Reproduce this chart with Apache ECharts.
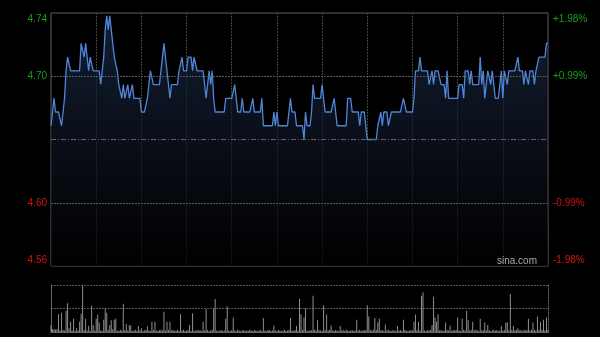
<!DOCTYPE html>
<html><head><meta charset="utf-8">
<script src="https://cdn.jsdelivr.net/npm/echarts@6/dist/echarts.min.js"></script>
<style>html,body{margin:0;padding:0;background:#000;}#c{width:600px;height:337px;}</style>
</head><body><div id="c"></div>
<script>
const prevClose = 4.65;
const pctTicks = [-1.98, -0.99, 0, 0.99, 1.98];
const priceTickLabels = ['4.56', '4.60', '', '4.70', '4.74'];
const pctTickLabels = ['-1.98%', '-0.99%', '', '+0.99%', '+1.98%'];

const prices = [
4.66,4.67,4.68,4.67,4.67,4.67,4.67,4.66,4.67,4.68,
4.70,4.71,4.71,4.70,4.70,4.70,4.70,4.70,4.70,4.70,
4.72,4.72,4.71,4.72,4.71,4.70,4.71,4.71,4.70,4.70,
4.70,4.70,4.70,4.69,4.69,4.71,4.73,4.74,4.73,4.74,
4.73,4.72,4.71,4.71,4.70,4.69,4.69,4.68,4.69,4.68,
4.68,4.69,4.68,4.68,4.69,4.68,4.68,4.68,4.68,4.68,
4.67,4.67,4.67,4.67,4.68,4.68,4.70,4.70,4.69,4.69,
4.69,4.69,4.69,4.69,4.71,4.72,4.71,4.70,4.69,4.68,
4.69,4.69,4.69,4.69,4.69,4.70,4.70,4.71,4.70,4.70,
4.70,4.71,4.71,4.71,4.70,4.71,4.71,4.70,4.70,4.70,
4.70,4.70,4.70,4.68,4.69,4.70,4.69,4.70,4.68,4.67,
4.67,4.67,4.67,4.67,4.67,4.67,4.68,4.68,4.68,4.68,
4.68,4.68,4.69,4.69,4.67,4.67,4.67,4.68,4.67,4.67,
4.67,4.67,4.67,4.67,4.68,4.67,4.67,4.67,4.67,4.67,
4.68,4.66,4.66,4.66,4.66,4.66,4.66,4.66,4.67,4.66,
4.67,4.66,4.66,4.66,4.66,4.66,4.66,4.66,4.66,4.68,
4.67,4.67,4.67,4.66,4.66,4.66,4.66,4.66,4.65,4.67,
4.66,4.66,4.66,4.67,4.69,4.68,4.68,4.68,4.68,4.68,
4.69,4.69,4.67,4.67,4.67,4.67,4.67,4.67,4.68,4.67,
4.66,4.66,4.66,4.66,4.66,4.66,4.66,4.68,4.68,4.68,
4.67,4.67,4.67,4.67,4.67,4.66,4.67,4.67,4.67,4.67,
4.65,4.65,4.65,4.65,4.65,4.65,4.65,4.66,4.66,4.67,
4.66,4.67,4.67,4.67,4.66,4.66,4.67,4.67,4.67,4.67,
4.67,4.67,4.67,4.67,4.68,4.68,4.67,4.67,4.67,4.67,
4.67,4.68,4.70,4.70,4.70,4.71,4.70,4.70,4.70,4.70,
4.70,4.69,4.69,4.70,4.69,4.70,4.70,4.70,4.70,4.69,
4.69,4.69,4.68,4.70,4.68,4.68,4.68,4.68,4.68,4.68,
4.68,4.69,4.69,4.69,4.68,4.70,4.70,4.70,4.69,4.70,
4.69,4.69,4.69,4.69,4.69,4.71,4.69,4.70,4.68,4.69,
4.70,4.70,4.69,4.70,4.70,4.68,4.68,4.68,4.68,4.70,
4.68,4.70,4.70,4.69,4.70,4.70,4.70,4.70,4.70,4.70,
4.71,4.70,4.70,4.70,4.69,4.70,4.70,4.69,4.70,4.70,
4.70,4.69,4.70,4.70,4.71,4.71,4.71,4.71,4.71,4.72,
4.72
];

const volumes = [
15,6,6,5,6,38,3,41,4,3,
45,61,8,22,3,28,2,8,3,22,
39,99,4,28,3,13,2,56,15,3,
28,37,20,3,2,26,50,41,4,15,
25,6,26,28,3,2,5,3,60,4,
17,3,15,14,2,3,5,2,13,3,
8,2,3,4,12,3,2,22,4,22,
3,2,4,5,3,43,3,22,4,22,
3,5,2,3,4,2,38,3,5,2,
3,4,15,2,40,3,2,5,3,4,
2,22,3,49,4,2,3,5,50,70,
3,2,3,4,2,3,28,55,3,2,
4,31,3,2,5,3,2,3,4,2,
3,2,5,3,2,4,3,2,3,5,
2,30,3,2,4,4,2,3,14,3,
2,4,3,2,3,5,2,3,4,30,
3,2,4,13,3,70,38,4,31,50,
3,2,4,3,77,5,3,25,4,3,
2,57,4,37,3,5,14,3,2,4,
3,2,13,3,4,2,5,3,2,3,
4,2,3,26,3,5,2,3,4,3,
57,33,4,3,5,30,4,20,28,3,
4,2,16,3,5,3,2,4,3,2,
13,3,4,2,26,5,3,2,3,4,
3,22,37,4,22,3,77,84,3,2,
4,3,5,15,75,31,22,38,3,4,
2,3,20,4,3,14,2,5,3,4,
31,3,2,28,4,3,45,25,3,4,
22,3,5,4,2,28,3,4,20,3,
15,4,2,3,5,3,4,2,3,13,
3,4,20,20,3,81,4,13,3,5,
8,3,4,2,5,3,4,28,3,5,
20,4,3,33,5,22,4,26,3,31,
5
];

// minute categories for a HK trading day (09:30-12:00, 13:00-16:00)
const minutes = [];
for (let m = 9 * 60 + 30; m <= 12 * 60; m++) minutes.push(m);
for (let m = 13 * 60 + 1; m <= 16 * 60; m++) minutes.push(m);
const categories = minutes.slice(0, prices.length).map(m => String(Math.floor(m / 60)).padStart(2, '0') + ':' + String(m % 60).padStart(2, '0'));

const pctData = prices.map(p => (p - prevClose) / prevClose * 100);

const GREEN = '#1c9e1c', RED = '#d41414';
const FONT = '"Liberation Sans", Arial, sans-serif';
function tickIndex(v) {
  let best = 0, bd = 1e9;
  pctTicks.forEach((t, i) => { const d = Math.abs(t - v); if (d < bd) { bd = d; best = i; } });
  return bd < 0.01 ? best : -1;
}
const richStyles = {
  gT: { color: GREEN, fontSize: 10, fontFamily: FONT, padding: [12, 0, 0, 0] },
  g: { color: GREEN, fontSize: 10, fontFamily: FONT },
  r: { color: RED, fontSize: 10, fontFamily: FONT },
  rB: { color: RED, fontSize: 10, fontFamily: FONT, padding: [0, 0, 12, 0] }
};
function fmt(labels) {
  return function (v) {
    const i = tickIndex(v);
    if (i < 0 || labels[i] === '') return '';
    const key = i === 4 ? 'gT' : i === 3 ? 'g' : i === 1 ? 'r' : 'rB';
    return '{' + key + '|' + labels[i] + '}';
  };
}

const chart = echarts.init(document.getElementById('c'), null, { renderer: 'canvas' });
chart.setOption({
  backgroundColor: '#000',
  animation: false,
  grid: [
    { left: 51, right: 52, top: 13, height: 253, show: true, borderColor: '#5e5e5e', borderWidth: 1, backgroundColor: 'transparent' },
    { left: 51, right: 52, top: 285, height: 47, show: false }
  ],
  xAxis: [
    { type: 'category', gridIndex: 0, data: categories, boundaryGap: false,
      axisLine: { show: false }, axisTick: { show: false }, axisLabel: { show: false },
      splitLine: { show: true, interval: (i) => i % 30 === 0 && i > 0 && i < categories.length - 1,
        lineStyle: { color: '#444', width: 1, type: [2, 1] } } },
    { type: 'category', gridIndex: 1, data: categories, boundaryGap: false,
      axisLine: { show: true, lineStyle: { color: '#666', width: 1 } }, axisTick: { show: false }, axisLabel: { show: false },
      splitLine: { show: false } }
  ],
  yAxis: [
    { type: 'value', gridIndex: 0, min: -1.98, max: 1.98, interval: 0.99, position: 'left',
      axisLine: { show: false }, axisTick: { show: false }, splitLine: { show: false },
      axisLabel: { show: true, margin: 4, formatter: fmt(priceTickLabels), rich: richStyles } },
    { type: 'value', gridIndex: 0, min: -1.98, max: 1.98, interval: 0.99, position: 'right',
      axisLine: { show: false }, axisTick: { show: false }, splitLine: { show: false },
      axisLabel: { show: true, margin: 5, formatter: fmt(pctTickLabels), rich: richStyles } },
    { type: 'value', gridIndex: 1, min: 0, max: 100, interval: 50, position: 'left',
      axisLine: { show: true, lineStyle: { color: '#666', width: 1 } }, axisTick: { show: false }, axisLabel: { show: false },
      splitLine: { show: true, lineStyle: { color: '#555', width: 1, type: [2, 1] } } },
    { type: 'value', gridIndex: 1, min: 0, max: 100, interval: 50, position: 'right',
      axisLine: { show: true, lineStyle: { color: '#555', width: 1, type: [2, 1] } }, axisTick: { show: false }, axisLabel: { show: false },
      splitLine: { show: false } }
  ],
  series: [
    { type: 'line', xAxisIndex: 0, yAxisIndex: 0, data: pctData, showSymbol: false, symbol: 'none',
      lineStyle: { color: '#4f86d8', width: 1.3 },
      areaStyle: { origin: 'start', color: new echarts.graphic.LinearGradient(0, 0, 0, 1, [
        { offset: 0, color: '#1b2a46' }, { offset: 1, color: '#000000' }]) },
      z: 3,
      markLine: { silent: true, symbol: 'none', label: { show: false }, animation: false,
        data: [
          { yAxis: 0.99, lineStyle: { color: '#5a5a5a', width: 1, type: [2, 1] } },
          { yAxis: -0.99, lineStyle: { color: '#5a5a5a', width: 1, type: [2, 1] } },
          { yAxis: 0, lineStyle: { color: '#626262', width: 1, type: [5, 2, 1, 2] } }
        ] } },
    { type: 'bar', xAxisIndex: 1, yAxisIndex: 2, data: volumes, barWidth: 1,
      itemStyle: { color: '#8f8f8f' } }
  ],
  graphic: [
    { type: 'text', right: 63, top: 256, z: 10,
      style: { text: 'sina.com', fill: '#a8a8a8', font: '10px "Liberation Sans", Arial, sans-serif' } }
  ]
});
</script>
</body></html>
